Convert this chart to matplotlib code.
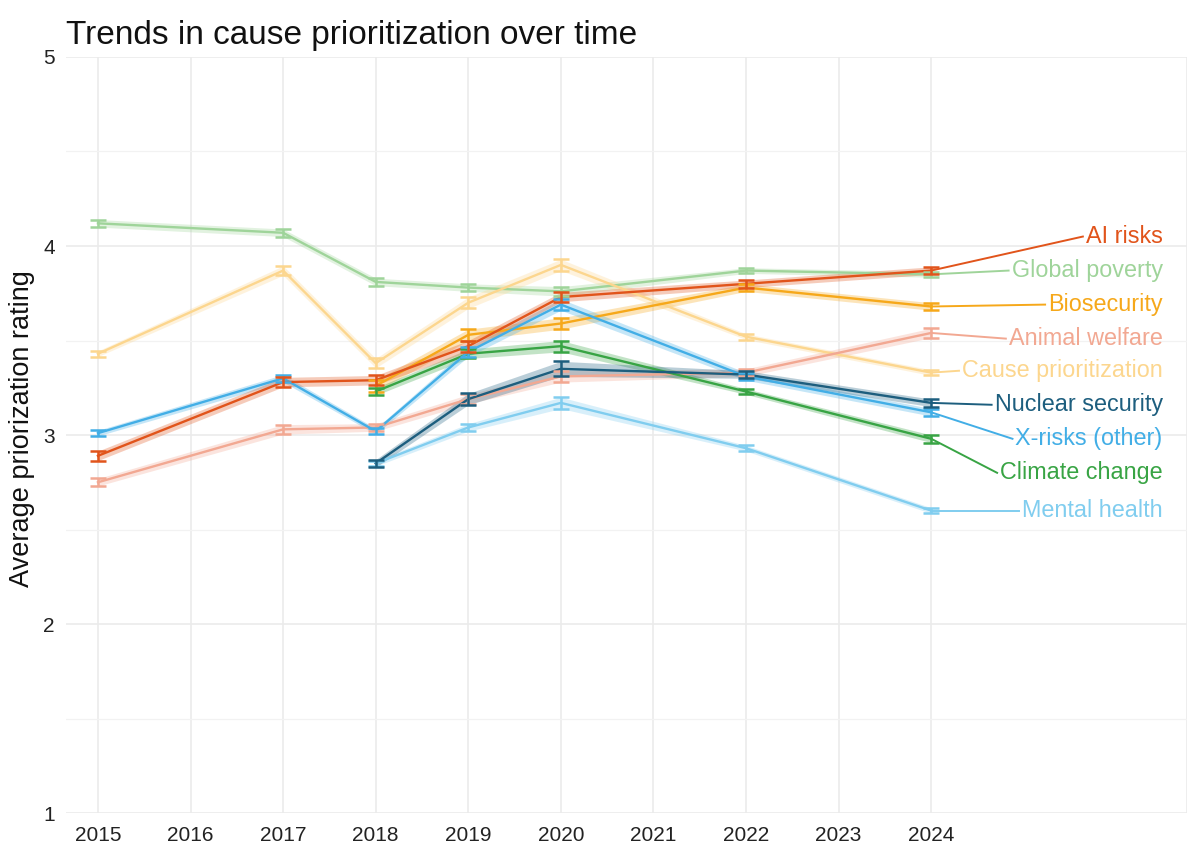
import matplotlib.pyplot as plt

plt.rcParams['font.family'] = ['Liberation Sans', 'DejaVu Sans']

# Values
causes = ["AI risks", "Global poverty", "Biosecurity", "Animal welfare",
          "Cause prioritization", "Nuclear security", "X-risks (other)",
          "Climate change", "Mental health"]

years_all = [2015, 2017, 2018, 2019, 2020, 2022, 2024]
years_2018 = [2018, 2019, 2020, 2022, 2024]

ai_risks = [2.89, 3.28, 3.29, 3.47, 3.73, 3.80, 3.87]
global_poverty = [4.12, 4.07, 3.81, 3.78, 3.76, 3.87, 3.85]
biosecurity = [3.26, 3.53, 3.59, 3.78, 3.68]
animal_welfare = [2.75, 3.03, 3.04, 3.19, 3.31, 3.33, 3.54]
cause_prio = [3.43, 3.87, 3.38, 3.70, 3.90, 3.52, 3.33]
nuclear = [2.85, 3.19, 3.35, 3.32, 3.17]
xrisks = [3.01, 3.30, 3.02, 3.44, 3.69, 3.31, 3.12]
climate = [3.23, 3.43, 3.47, 3.23, 2.98]
mental = [2.85, 3.04, 3.17, 2.93, 2.60]

ai_err = [0.025, 0.025, 0.025, 0.03, 0.025, 0.02, 0.02]
gp_err = [0.02, 0.02, 0.02, 0.02, 0.025, 0.015, 0.015]
bio_err = [0.03, 0.03, 0.03, 0.02, 0.02]
aw_err = [0.02, 0.025, 0.02, 0.025, 0.03, 0.02, 0.025]
cp_err = [0.015, 0.025, 0.025, 0.03, 0.03, 0.015, 0.015]
nuc_err = [0.02, 0.03, 0.04, 0.02, 0.02]
xr_err = [0.015, 0.02, 0.015, 0.025, 0.03, 0.02, 0.02]
cc_err = [0.02, 0.025, 0.03, 0.015, 0.02]
mh_err = [0.015, 0.02, 0.03, 0.015, 0.015]

label_y = [4.05, 3.87, 3.69, 3.51, 3.34, 3.16, 2.98, 2.80, 2.60]

colors = ["#E1541B", "#9FD49A", "#F6A81A", "#F2A892", "#FCD68E",
          "#1D5E7E", "#42AEE6", "#38A444", "#80CDEF"]

series = [
    (years_all, ai_risks, ai_err),
    (years_all, global_poverty, gp_err),
    (years_2018, biosecurity, bio_err),
    (years_all, animal_welfare, aw_err),
    (years_all, cause_prio, cp_err),
    (years_2018, nuclear, nuc_err),
    (years_all, xrisks, xr_err),
    (years_2018, climate, cc_err),
    (years_2018, mental, mh_err),
]

fig = plt.figure(figsize=(12, 8.57), dpi=100)
ax = fig.add_axes([0.055, 0.0513, 0.934, 0.8822])

# draw lighter series first so strong ones stay on top
order = [1, 4, 3, 8, 2, 7, 6, 5, 0]
for i in order:
    xs, ys, es = series[i]
    c = colors[i]
    lo = [y - e for y, e in zip(ys, es)]
    hi = [y + e for y, e in zip(ys, es)]
    ax.fill_between(xs, lo, hi, color=c, alpha=0.3, lw=0, zorder=2)
    ax.plot(xs, ys, color=c, lw=1.7, zorder=3)
    ax.errorbar(xs, ys, yerr=es, fmt='none', ecolor=c, elinewidth=1.8,
                capsize=6, capthick=1.8, zorder=4)

ax.set_xlim(2014.655, 2026.76)
ax.set_ylim(1, 5)
ax.set_xticks(range(2015, 2025))
ax.set_yticks([1, 2, 3, 4, 5])
ax.set_yticks([1.5, 2.5, 3.5, 4.5], minor=True)
ax.grid(which='major', color='#EBEBEB', lw=1.2, zorder=0)
ax.grid(which='minor', axis='y', color='#F2F2F2', lw=0.9, zorder=0)
ax.axvline(2026.76, color='#EBEBEB', lw=1.2, zorder=0)
for s in ax.spines.values():
    s.set_visible(False)
ax.tick_params(length=0, labelsize=15, labelcolor='#222222')
ax.tick_params(axis='x', pad=9)
ax.tick_params(axis='y', pad=8)
ax.tick_params(axis='x', which='minor', bottom=False)
ax.tick_params(axis='y', which='minor', left=False)

ax.set_ylabel("Average priorization rating", fontsize=19.5, color='#111111',
              va='center')
ax.yaxis.set_label_coords(-0.039, 0.509)
fig.text(0.055, 0.9487, "Trends in cause prioritization over time", fontsize=24,
         color='#111111', ha='left', va='baseline')

# labels on the right with connector segments
texts = []
for name, ly, c in zip(causes, label_y, colors):
    t = ax.text(2026.5, ly, name, color=c, fontsize=16.8, ha='right', va='center', zorder=5)
    texts.append(t)

fig.canvas.draw()
r = fig.canvas.get_renderer()
inv = ax.transData.inverted()
for (xs, ys, es), t, ly, c in zip(series, texts, label_y, colors):
    bb = t.get_window_extent(r)
    x_end = inv.transform((bb.x0 - 3, 0))[0]
    ax.plot([xs[-1], x_end], [ys[-1], ly], color=c, lw=1.4, zorder=3)

plt.savefig("out.png", dpi=100)
